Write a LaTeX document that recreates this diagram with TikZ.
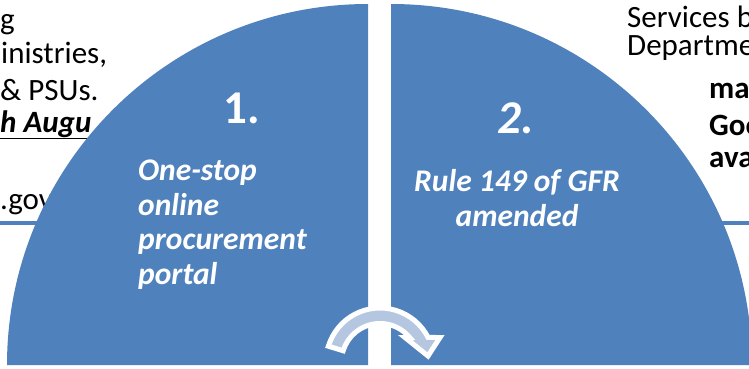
\documentclass[tikz,border=0pt]{standalone}
\usepackage{fontspec}
\setmainfont{Carlito}
\definecolor{discblue}{HTML}{4F81BD}
\definecolor{arrowfill}{HTML}{B4C6E0}

\begin{document}
\begin{tikzpicture}[x=1pt,y=1pt,
    quarter/.style={fill=discblue},
    backtext/.style={anchor=base west,inner sep=0,font=\fontsize{31}{34}\selectfont},
    backbold/.style={backtext,font=\fontsize{31}{34}\selectfont\bfseries},
    disctext/.style={inner sep=0,text=white,font=\fontsize{31.5}{34.5}\selectfont\bfseries\itshape},
    numtext/.style={inner sep=0,anchor=base,text=white,font=\fontsize{47}{50}\selectfont\bfseries},
    rule/.style={discblue,line width=4pt}]
      \useasboundingbox (0,0) rectangle (749,368);
      \clip (0,0) rectangle (749,368);

      \node[backtext] (g) at (0,339) {g};
      \node[backtext] (ministries) at (1,305) {inistries,};
      \node[backtext] (psus) at (0,268) {\& PSUs.};
      \node[backtext,font=\fontsize{31}{34}\selectfont\bfseries\itshape] (august) at (0,236) {\underline{h Augu}};
      \node[backtext] (gov) at (0,159) {.gov};
      \draw[rule] (0,145) -- (60,145);

      \node[backtext] (services) at (627,341) {Services b};
      \node[backtext] (department) at (627,313) {Departme};
      \node[backbold] (ma) at (709,270) {ma};
      \node[backbold] (goo) at (709,233) {Goo};
      \node[backbold] (ava) at (709,201) {ava};
      \draw[rule] (700,145) -- (749,145);

      \fill[quarter] (368,3) -- (7,3) arc[start angle=180,end angle=90,radius=361] -- cycle;
      \fill[quarter] (391,3) -- (391,364) arc[start angle=90,end angle=0,radius=361] -- cycle;

      \node[numtext] (one) at (242,245) {1.};
      \node[numtext,font=\fontsize{47}{50}\selectfont\bfseries\itshape] (two) at (516,235) {2.};
      \node[disctext,anchor=base west,align=left] (portal) at (138,84) {One-stop\\online\\procurement\\portal};
      \node[disctext,anchor=base,align=center] (gfr) at (517,142) {Rule 149 of GFR\\amended};

      \filldraw[shift={(380,6)},fill=arrowfill,draw=white,line width=5pt,line join=miter]
        (163:54) arc[start angle=163,end angle=27,radius=54] -- (60,24.5) -- (48,6) -- (25,24.5)
        -- (29.7,24.5) arc[start angle=39.5,end angle=163,radius=38.5] -- cycle;
    \end{tikzpicture}
\end{document}
